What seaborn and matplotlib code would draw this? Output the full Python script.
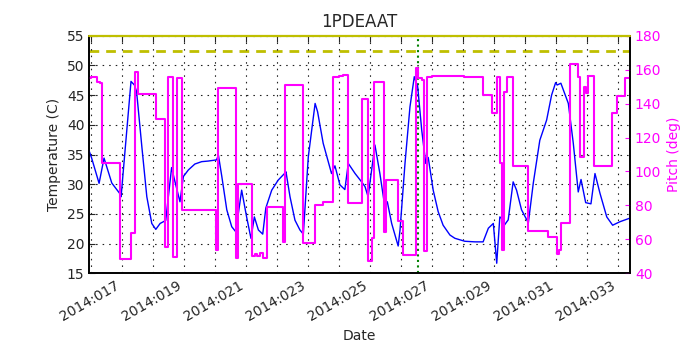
import matplotlib
matplotlib.use("Agg")
import matplotlib.pyplot as plt
import seaborn as sns
import numpy as np
import pandas as pd

# ---- data (day-of-year 2014) ----
temp_days = [15.95, 16.03, 16.27, 16.43, 16.68, 16.95, 16.98, 17.11, 17.30, 17.41, 17.48,
             17.65, 17.81, 17.97, 18.10, 18.24, 18.42, 18.61, 18.72, 18.88, 18.99, 19.15,
             19.36, 19.58, 19.79, 20.06, 20.12, 20.23, 20.39, 20.55, 20.68, 20.87, 21.03,
             21.17, 21.28, 21.41, 21.55, 21.65, 21.84, 22.05, 22.27, 22.30, 22.43, 22.59,
             22.75, 22.86, 23.02, 23.24, 23.32, 23.50, 23.77, 23.88, 24.04, 24.20, 24.31,
             24.53, 24.74, 24.85, 24.95, 25.17, 25.33, 25.49, 25.57, 25.71, 25.92, 25.98,
             26.14, 26.30, 26.44, 26.55, 26.68, 26.81, 26.89, 27.05, 27.21, 27.37, 27.59,
             27.75, 28.07, 28.40, 28.66, 28.83, 28.99, 29.10, 29.20, 29.27, 29.33, 29.47,
             29.63, 29.74, 29.90, 30.12, 30.28, 30.49, 30.71, 30.87, 31.00, 31.05, 31.17,
             31.41, 31.57, 31.73, 31.82, 31.97, 32.14, 32.27, 32.43, 32.65, 32.84, 33.08,
             33.40]
temp_vals = [35.6, 34.4, 30.15, 34.4, 30.2, 28.35, 27.9, 35.8, 47.3, 46.7, 45.6,
             36.3, 27.9, 23.4, 22.4, 23.4, 23.9, 32.8, 30.4, 27.05, 31.3, 32.4,
             33.4, 33.8, 33.9, 34.1, 34.9, 31.3, 25.7, 22.85, 22.0, 29.0, 24.5,
             20.9, 24.5, 22.3, 21.6, 26.0, 29.0, 30.7, 31.9, 32.1, 27.9, 23.95,
             22.3, 21.6, 34.6, 43.6, 42.2, 36.9, 31.8, 33.1, 29.9, 29.1, 33.5,
             31.8, 30.4, 29.6, 27.9, 36.6, 31.8, 26.2, 27.05, 23.4, 19.6, 22.3,
             33.5, 43.0, 48.1, 46.4, 39.1, 33.5, 34.5, 29.0, 25.4, 23.1, 21.45,
             20.9, 20.4, 20.3, 20.3, 22.6, 23.4, 16.7, 24.5, 24.2, 23.0, 24.0,
             30.4, 29.0, 25.7, 23.5, 30.2, 37.4, 40.8, 45.0, 47.1, 46.7, 47.0,
             43.6, 36.9, 28.7, 30.8, 26.9, 26.7, 31.8, 28.5, 24.5, 23.1, 23.7,
             24.3]

pitch_days = [15.95, 16.02, 16.19, 16.30, 16.37, 16.95, 17.30, 17.43, 17.52, 18.10,
              18.40, 18.48, 18.66, 18.80, 18.93, 18.96, 20.03, 20.11, 20.68, 20.74,
              21.19, 21.30, 21.38, 21.45, 21.55, 21.68, 22.21, 22.28, 22.86, 23.24,
              23.50, 23.83, 24.00, 24.15, 24.29, 24.76, 24.94, 25.08, 25.13, 25.47,
              25.54, 25.92, 26.08, 26.48, 26.55, 26.68, 26.75, 26.84, 27.00, 28.05,
              28.66, 28.94, 29.12, 29.20, 29.28, 29.34, 29.43, 29.61, 30.12, 30.74,
              31.03, 31.10, 31.16, 31.46, 31.73, 31.80, 31.92, 31.97, 32.03, 32.24,
              32.83, 32.97, 33.24, 33.40]
pitch_vals = [154.9, 155.8, 152.9, 152.0, 105.2, 48.2, 63.6, 158.8, 145.6, 130.7,
              55.7, 155.5, 49.8, 154.9, 153.5, 77.3, 53.7, 149.0, 48.8, 92.6,
              50.2, 51.5, 50.2, 52.0, 48.8, 79.2, 58.6, 151.0, 57.7, 80.2,
              82.2, 155.8, 156.5, 157.0, 81.2, 142.5, 47.2, 60.6, 152.9, 64.5,
              95.0, 71.0, 50.8, 160.8, 155.0, 154.0, 53.3, 155.8, 156.0, 155.5,
              145.1, 134.6, 155.5, 105.2, 53.7, 147.0, 155.8, 103.2, 65.0, 61.2,
              51.2, 54.0, 69.5, 163.3, 155.8, 108.7, 150.0, 146.0, 156.4, 103.2,
              134.6, 144.5, 154.9, 154.9]

planning_limit = 52.5
caution_limit = 55.0
marker_day = 26.57
tick_days = list(range(16, 34))

# ---- plotting ----
sns.set_style("white")
plt.rcParams['font.family'] = ['DejaVu Sans']
plt.rcParams['font.size'] = 10

fig = plt.figure(figsize=(7, 3.5), dpi=100)
ax = fig.add_axes([0.1276, 0.219, 0.7724, 0.679])
ax2 = ax.twinx()

tdf = pd.DataFrame({"day": temp_days, "temp": temp_vals})
pdf = pd.DataFrame({"day": pitch_days, "pitch": pitch_vals})

sns.lineplot(data=tdf, x="day", y="temp", ax=ax, color="#0000ff", lw=1.0,
             estimator=None, sort=False, zorder=3)
ax.axhline(planning_limit, color="#bfbf00", lw=2, linestyle=(0, (3.5, 2.5)), zorder=2)
ax.axvline(marker_day, color="green", lw=1.5, linestyle=":", zorder=2)

sns.lineplot(data=pdf, x="day", y="pitch", ax=ax2, color="#ff00ff", lw=1.5,
             estimator=None, sort=False, drawstyle="steps-post")
# caution limit drawn on top of the top spine
ax2.axhline(40 + (caution_limit - 15) / 40 * 140, color="#bfbf00", lw=1.6,
            zorder=10, clip_on=False)

ax.set_xlim(15.955, 33.4)
ax.set_ylim(15, 55)
ax2.set_ylim(40, 180)
ax.set_yticks(np.arange(15, 56, 5))
ax2.set_yticks(np.arange(40, 181, 20))
ax.set_xticks(tick_days)
ax.set_xticklabels([f"2014:{d:03d}" if d % 2 == 1 else "" for d in tick_days],
                   rotation=30, ha="right")

ax.grid(True, color="#222222", linestyle=(0, (1.4, 4.5)), lw=0.8)
ax.set_axisbelow(False)

ax.set_title("1PDEAAT", fontsize=12)
ax.set_xlabel("Date", fontsize=10)
ax.set_ylabel("Temperature (C)", fontsize=10)
ax2.set_ylabel("Pitch (deg)", fontsize=10, color="#ff00ff")
ax2.tick_params(axis="y", colors="#ff00ff", direction="in", labelsize=10)
ax.tick_params(axis="both", direction="in", labelsize=10, length=4)
ax.tick_params(axis="x", top=True)
for a in (ax, ax2):
    for s in a.spines.values():
        s.set_linewidth(1.2)
        s.set_color("black")

fig.savefig("out.png", dpi=100, facecolor="white")
